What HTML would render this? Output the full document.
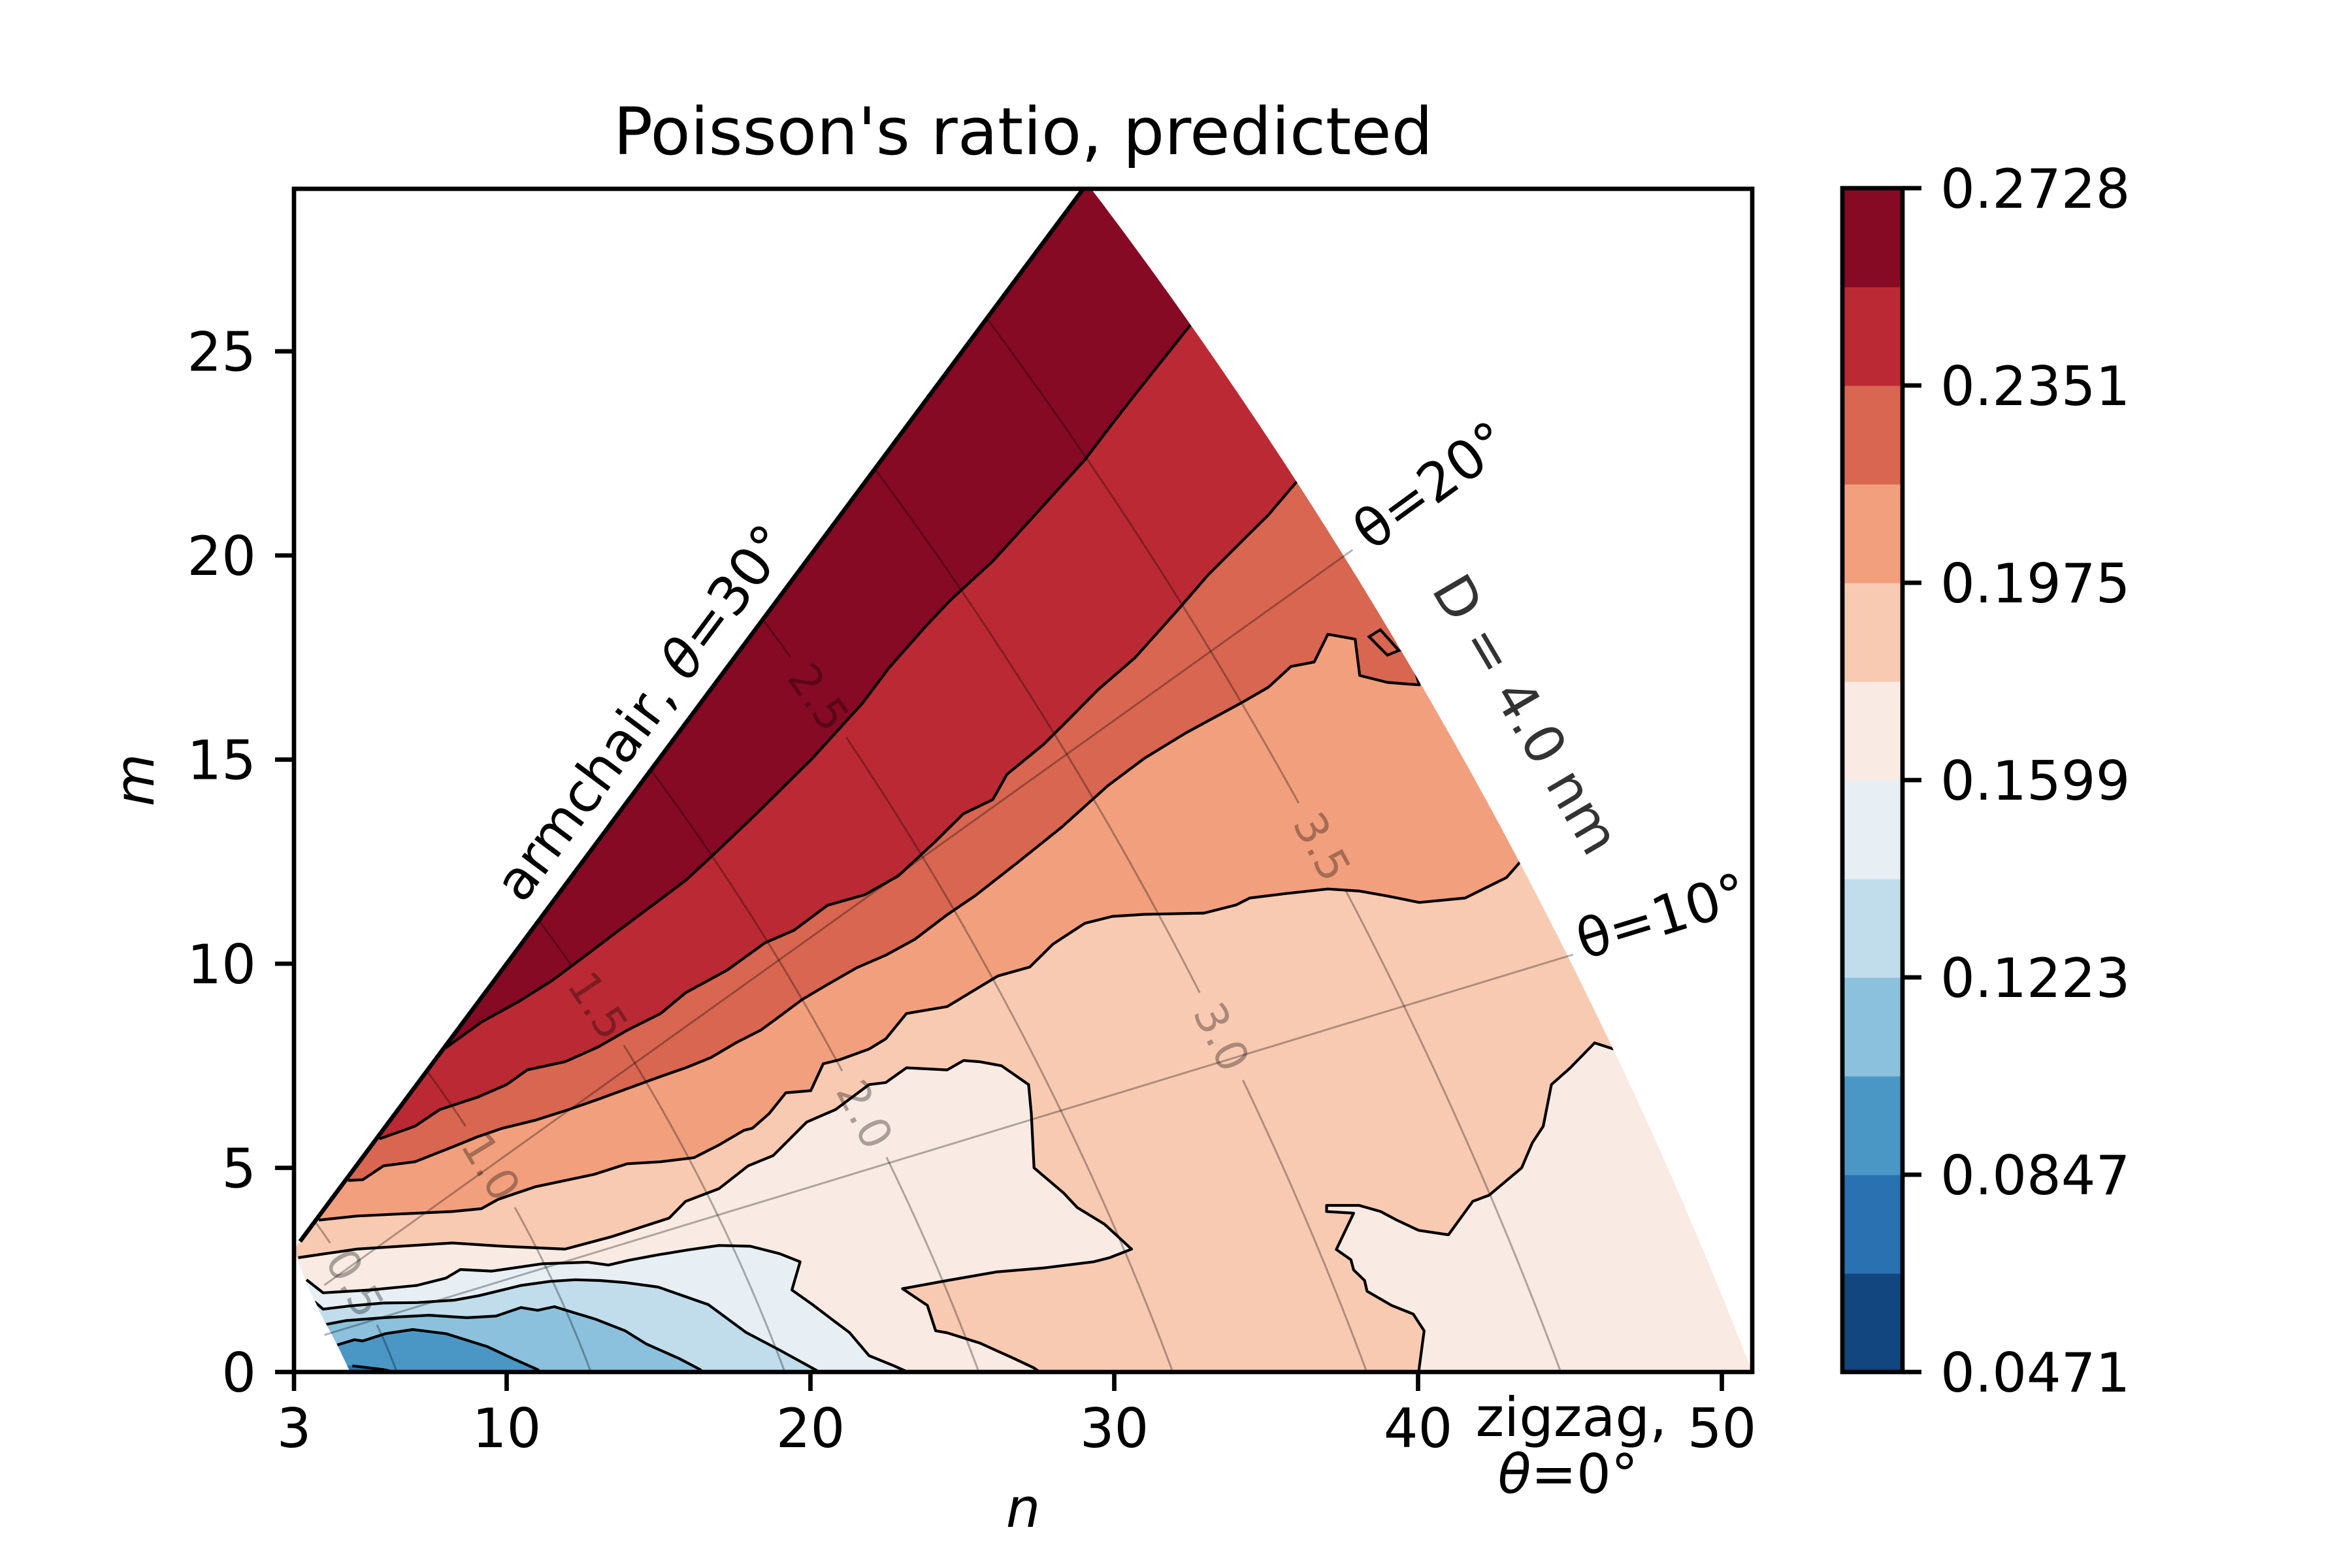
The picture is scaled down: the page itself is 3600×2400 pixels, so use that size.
<!DOCTYPE html>
<html><head><meta charset="utf-8"><title>Poisson's ratio, predicted</title>
<style>
html,body{margin:0;padding:0;background:#fff;}
svg{display:block;font-family:"DejaVu Sans","Liberation Sans",sans-serif;}
</style></head>
<body>
<svg id="chart" width="3600" height="2400" viewBox="0 0 3600 2400" xmlns="http://www.w3.org/2000/svg">
<defs>
<clipPath id="axclip"><rect x="450" y="289" width="2232" height="1811"/></clipPath>
<clipPath id="domclip"><polygon id="dompoly" points=""/></clipPath>
</defs>
<rect x="0" y="0" width="3600" height="2400" fill="#fff"/>
<text x="1566" y="236" font-size="100" text-anchor="middle">Poisson's ratio, predicted</text>
<g clip-path="url(#axclip)">
  <g id="fills" clip-path="url(#domclip)"></g>
  <g id="guides"></g>
  <g id="lines"></g>
</g>
<g id="annot">
  <text transform="translate(800,1385) rotate(-53.3)" font-size="83">armchair, <tspan font-style="italic">θ</tspan>=30°</text>
  <text transform="translate(2099,845) rotate(-36)" font-size="83">θ=20°</text>
  <text transform="translate(2424,1469) rotate(-17)" font-size="83">θ=10°</text>
  <text transform="translate(2190,902) rotate(59.6)" font-size="83" fill="#333">D = 4.0 nm</text>
  <text x="2405" y="2198" font-size="83" text-anchor="middle">zigzag,</text>
  <text x="2400" y="2285" font-size="83" text-anchor="middle"><tspan font-style="italic">θ</tspan>=0°</text>
</g>
<rect x="450" y="289" width="2232" height="1811" fill="none" stroke="#000" stroke-width="6.7"/>
<g id="xticks"></g>
<g id="yticks"></g>
<text x="1566" y="2337" font-size="83" font-style="italic" text-anchor="middle">n</text>
<text transform="translate(235,1194) rotate(-90)" font-size="83" font-style="italic" text-anchor="middle">m</text>
<g id="cbar"></g>
</svg>
<script>
// ---- data ----
const xTicks = [3, 10, 20, 30, 40, 50];
const yTicks = [0, 5, 10, 15, 20, 25];
const cbarTickLabels = ['0.0471', '0.0847', '0.1223', '0.1599', '0.1975', '0.2351', '0.2728'];
const bandColors = ['#11467f', '#2a71b2', '#4a97c5', '#8bc1dc', '#c1ddec', '#e7eff4', '#f9ebe3', '#f9cab2', '#f29f7e', '#d86651', '#bb2a34', '#860a24'];
const dsqMax = 2600;
const lowerLeftEdge = [[4.85,0],[4.4,0.7],[3.9,1.4],[3.4,2.2],[3.1,2.8],[3,3]];
const L1 = [[8.0,7.94],[9.17,8.57],[10.41,9.08],[11.5,9.59],[12.6,10.2],[13.7,10.82],[14.8,11.43],[15.89,12.04],[16.72,12.61],[18.23,13.68],[20.05,15.02],[21.7,16.37],[22.6,17.26],[23.8,18.27],[24.6,18.9],[26.0,19.86],[27.52,21.1],[29.03,22.34],[29.94,23.23],[30.77,24.02],[32.35,25.5],[33.0,26.1]];
const L2 = [[5.81,5.71],[6.98,6.02],[7.8,6.43],[9.04,6.73],[10.0,7.04],[10.68,7.4],[11.92,7.6],[13.01,7.96],[13.97,8.37],[15.07,8.78],[15.89,9.29],[17.27,9.85],[18.5,10.51],[19.46,10.82],[20.56,11.43],[21.79,11.69],[22.89,12.15],[24.12,13.0],[25.03,13.67],[26.0,14.02],[26.47,14.64],[27.67,15.37],[28.43,15.93],[29.48,16.72],[30.69,17.5],[32.05,18.63],[33.1,19.53],[34.31,20.43],[35.07,20.99],[36.1,21.89],[36.6,22.3]];
const L3 = [[4.78,4.69],[5.26,4.71],[5.95,5.05],[6.98,5.15],[8.21,5.51],[9.04,5.76],[9.86,5.97],[10.96,6.17],[12.05,6.43],[13.01,6.68],[13.97,6.94],[15.07,7.24],[15.89,7.45],[16.72,7.7],[17.54,8.06],[18.36,8.37],[18.91,8.67],[19.74,9.13],[20.56,9.49],[21.52,9.9],[22.48,10.21],[23.44,10.6],[24.5,11.2],[25.41,11.66],[26.77,12.45],[28.28,13.35],[29.79,14.36],[30.99,15.03],[32.35,15.65],[34.16,16.38],[35.07,16.77],[35.82,17.28],[36.58,17.39],[37.03,18.07],[37.93,17.95],[38.08,17.06],[38.99,16.89],[40.04,16.83],[39.67,17.79]];
const island = [[38.39,18.01],[38.76,18.18],[39.37,17.67],[38.99,17.56]];
const L4 = [[3.82,3.72],[5.06,3.82],[6.43,3.87],[8.21,3.93],[9.17,4.0],[9.72,4.23],[10.96,4.54],[12.88,4.84],[13.97,5.1],[15.07,5.15],[16.17,5.25],[16.99,5.56],[17.81,5.92],[18.09,5.97],[18.64,6.33],[19.19,6.84],[20.01,6.89],[20.42,7.55],[20.97,7.65],[21.93,7.91],[22.48,8.16],[23.16,8.78],[24.5,8.95],[25.41,9.36],[26.17,9.7],[27.22,9.92],[27.98,10.48],[29.03,10.99],[29.94,11.16],[30.99,11.21],[32.95,11.24],[34.01,11.44],[34.46,11.61],[35.67,11.72],[37.03,11.83],[38.08,11.78],[38.99,11.66],[40.04,11.5],[41.55,11.61],[42.91,12.11],[43.44,12.56],[43.37,12.84]];
const L5 = [[3.14,2.8],[5.06,3.01],[7.12,3.11],[8.21,3.16],[9.86,3.08],[11.92,3.01],[13.43,3.31],[14.52,3.57],[15.35,3.77],[15.89,4.18],[16.99,4.49],[17.95,5.05],[18.77,5.3],[19.87,6.12],[20.83,6.43],[21.93,7.04],[22.48,7.09],[23.16,7.45],[24.5,7.4],[25.04,7.63],[25.57,7.6],[26.29,7.5],[27.18,7.04],[27.27,6.32],[27.36,5.0],[28.34,4.38],[28.78,4.03],[29.68,3.62],[30.57,3.01],[29.85,2.8],[29.32,2.7],[27.71,2.55],[26.11,2.45],[24.5,2.24],[23.03,2.04],[23.85,1.63],[24.12,1.01],[24.5,0.96],[25.57,0.71],[26.64,0.35],[27.36,0.1],[27.54,0]];
const L5b = [[40.02,0],[40.2,1.01],[39.84,1.42],[39.13,1.63],[38.32,1.98],[38.24,2.24],[37.88,2.5],[37.79,2.75],[37.31,3.0],[37.88,3.89],[36.99,3.93],[36.99,4.08],[38.06,4.08],[38.77,3.93],[39.3,3.72],[40.02,3.47],[41.0,3.36],[41.8,4.18],[42.34,4.33],[43.41,5.0],[43.76,5.61],[44.12,6.02],[44.39,7.04],[45.01,7.45],[45.81,8.06],[46.44,7.91]];
const L6 = [[3.41,2.26],[3.96,1.94],[5.53,2.01],[7.04,2.12],[8.0,2.3],[8.48,2.51],[9.51,2.47],[11.16,2.65],[12.67,2.69],[13.35,2.62],[14.04,2.74],[14.99,2.87],[15.96,2.99],[16.99,3.1],[18.02,3.08],[18.98,2.9],[19.66,2.7],[19.39,2.01],[20.07,1.65],[20.76,1.26],[21.28,0.97],[21.93,0.4],[22.75,0.15],[23.2,0]];
const L7 = [[3.68,1.72],[3.96,1.54],[4.85,1.62],[5.95,1.69],[7.04,1.7],[8.28,1.76],[9.1,1.87],[10.47,2.12],[11.43,2.22],[12.25,2.26],[13.08,2.24],[13.9,2.19],[14.99,2.08],[16.1,1.79],[16.64,1.65],[17.88,0.97],[18.98,0.54],[20.2,0.04],[20.25,0]];
const L8 = [[3.96,1.15],[4.71,1.26],[5.95,1.33],[7.45,1.39],[8.69,1.33],[9.65,1.37],[10.47,1.58],[11.02,1.51],[11.57,1.6],[12.94,1.29],[13.9,1.01],[14.59,0.69],[15.68,0.33],[16.37,0.06],[16.45,0]];
const L9 = [[4.37,0.65],[4.99,0.79],[5.26,0.76],[6.01,0.94],[6.91,1.04],[8.0,0.94],[9.37,0.62],[10.2,0.33],[11.02,0.06],[11.1,0]];
const L10 = [[4.92,0.15],[5.95,0.06],[6.3,0]];
const diamValues = [0.5, 1.0, 1.5, 2.0, 2.5, 3.0, 3.5];
const diamLabelSpots = [[4.92,2.14],[9.59,5.09],[12.88,8.89],[22.03,6.38],[20.26,16.52],[33.58,8.22],[36.73,12.83]];
const thetaLinesDeg = [10, 20];

// ---- axes ----
const xMin = 3, xMax = 51, yMin = 0, yMax = 28.98;
const AX = {l:450, r:2682, t:289, b:2100};
function X(n){ return AX.l + (n - xMin) * (AX.r - AX.l) / (xMax - xMin); }
function Y(m){ return AX.b - (m - yMin) * (AX.b - AX.t) / (yMax - yMin); }
const NS = 'http://www.w3.org/2000/svg';
function el(tag, attrs, parent){ const e = document.createElementNS(NS, tag); for (const k in attrs) e.setAttribute(k, attrs[k]); parent.appendChild(e); return e; }
function P(arr){ return arr.map(p => X(p[0]).toFixed(1) + ',' + Y(p[1]).toFixed(1)).join(' '); }
const chordA = 0.246 / Math.PI;

// domain (smooth outer boundary, apex on armchair line)
const apex = (-2 + Math.sqrt(4 + 12 * dsqMax)) / 6;
const domain = [[3,3], [apex, apex]];
for (let k = 1; k <= 120; k++) {
  const m = apex - apex * k / 120;
  const c = dsqMax - 2.0 * m;
  domain.push([(-m + Math.sqrt(4*c - 3*m*m)) / 2, m]);
}
lowerLeftEdge.forEach(p => domain.push(p));
document.getElementById('dompoly').setAttribute('points', P(domain));

const fills = document.getElementById('fills');
const lines = document.getElementById('lines');
function fillPoly(pts, color, name){
  const e = el('polygon', {points: P(pts), fill: color, stroke: color, 'stroke-width': 1}, fills);
  
  
}
function above(line){
  const s = line[0], e = line[line.length-1];
  const out = [[-5, s[1]]].concat(line);
  if (e[1] === 0) out.push([e[0], -5], [80, -5]); else out.push([80, e[1]]);
  out.push([80, 60], [-5, 60]);
  return out;
}
const base = el('rect', {x: 0, y: 0, width: 3600, height: 2400, fill: bandColors[2]}, fills);


fillPoly([[-5, L10[0][1]]].concat(L10, [[L10[L10.length-1][0], -5], [-5, -5]]), bandColors[1], 'band-0.0659-0.0847');
fillPoly(above(L9), bandColors[3], 'band-0.1035-0.1223');
fillPoly(above(L8), bandColors[4], 'band-0.1223-0.1411');
fillPoly(above(L7), bandColors[5], 'band-0.1411-0.1599');
fillPoly(above(L6), bandColors[6], 'band-0.1599-0.1787');
fillPoly(above(L5), bandColors[7], 'band-0.1787-0.1975');
fillPoly(L5b.concat([[80, L5b[L5b.length-1][1]], [80, -5], [L5b[0][0], -5]]), bandColors[6], 'band-0.1599-0.1787-right');
fillPoly(above(L4), bandColors[8], 'band-0.1975-0.2163');
fillPoly(above(L3), bandColors[9], 'band-0.2163-0.2351');
fillPoly(island, bandColors[9], 'band-0.2163-0.2351-island');
fillPoly(above(L2), bandColors[10], 'band-0.2351-0.2540');
fillPoly(above(L1), bandColors[11], 'band-0.2540-0.2728');

// contour lines (clipped to domain)
const lineGroup = el('g', {'clip-path': 'url(#domclip)'}, lines);


[[L1,'contour-0.2540'],[L2,'contour-0.2351'],[L3,'contour-0.2163'],[L4,'contour-0.1975'],[L5,'contour-0.1787'],[L5b,'contour-0.1787-right'],[L6,'contour-0.1599'],[L7,'contour-0.1411'],[L8,'contour-0.1223'],[L9,'contour-0.1035'],[L10,'contour-0.0847']].forEach(([ln, nm]) => {
  const e = el('polyline', {points: P(ln), fill: 'none', stroke: '#000', 'stroke-width': 4.2, 'stroke-linejoin': 'round'}, lineGroup);
  
  
});
const isl = el('polygon', {points: P(island), fill: 'none', stroke: '#000', 'stroke-width': 4.2}, lines);


const arm = el('line', {x1: X(3.2), y1: Y(3.2), x2: X(apex), y2: Y(apex), stroke: '#000', 'stroke-width': 6.5}, lines);



// guides
const guides = document.getElementById('guides');
diamValues.forEach((D, i) => {
  const c = (D / chordA) ** 2;
  const spot = diamLabelSpots[i];
  const s = Math.sqrt(c / (spot[0]*spot[0] + spot[0]*spot[1] + spot[1]*spot[1]));
  const ln = spot[0]*s, lm = spot[1]*s;
  const lx = X(ln), ly = Y(lm);
  const gap = 72;
  const mA = Math.sqrt(c / 3);
  let segs = [], cur = [];
  for (let k = 0; k <= 300; k++) {
    const m = mA * k / 300;
    const n = (-m + Math.sqrt(4*c - 3*m*m)) / 2;
    const px = X(n), py = Y(m);
    if (Math.hypot(px - lx, py - ly) < gap) { if (cur.length > 1) segs.push(cur); cur = []; }
    else cur.push(px.toFixed(1) + ',' + py.toFixed(1));
  }
  if (cur.length > 1) segs.push(cur);
  segs.forEach(sg => {
    const e = el('polyline', {points: sg.join(' '), fill: 'none', stroke: 'rgba(0,0,0,0.3)', 'stroke-width': 3}, guides);
    
    
  });
  let tx = -(ln + 2*lm) * (AX.r-AX.l)/(xMax-xMin), ty = -(2*ln + lm) * (AX.b-AX.t)/(yMax-yMin);
  if (tx < 0) { tx = -tx; ty = -ty; }
  const ang = Math.atan2(ty, tx) * 180 / Math.PI;
  const t = el('text', {transform: 'translate(' + lx.toFixed(1) + ',' + ly.toFixed(1) + ') rotate(' + ang.toFixed(1) + ')', 'font-size': 67, 'text-anchor': 'middle', dy: 24, fill: 'rgba(0,0,0,0.32)'}, guides);
  t.textContent = D.toFixed(1);
  
  
});
thetaLinesDeg.forEach(th => {
  const r = Math.tan(th * Math.PI / 180);
  const k = 2*r / (Math.sqrt(3) - r);
  const nEnd = Math.sqrt(2600 / (1 + k + k*k));
  const e = el('line', {x1: X(4), y1: Y(4*k), x2: X(nEnd), y2: Y(nEnd*k), stroke: 'rgba(0,0,0,0.3)', 'stroke-width': 3}, guides);
  
  
});

// ticks
const xt = document.getElementById('xticks');
xTicks.forEach(v => {
  const l = el('line', {x1: X(v), y1: AX.b, x2: X(v), y2: AX.b + 29, stroke: '#000', 'stroke-width': 6.7}, xt);
  
  
  const t = el('text', {x: X(v), y: 2215, 'font-size': 83, 'text-anchor': 'middle'}, xt);
  t.textContent = v;
  
  
});
const yt = document.getElementById('yticks');
yTicks.forEach(v => {
  const l = el('line', {x1: AX.l - 29, y1: Y(v), x2: AX.l, y2: Y(v), stroke: '#000', 'stroke-width': 6.7}, yt);
  
  
  const t = el('text', {x: 392, y: Y(v) + 30, 'font-size': 83, 'text-anchor': 'end'}, yt);
  t.textContent = v;
  
  
});

// colorbar
const cb = document.getElementById('cbar');
const CB = {l: 2820, r: 2912, t: 288, b: 2100};
const nb = bandColors.length, bh = (CB.b - CB.t) / nb;
bandColors.forEach((c, i) => {
  const r = el('rect', {x: CB.l, y: (CB.b - (i+1)*bh).toFixed(1), width: CB.r - CB.l, height: (bh + 0.6).toFixed(1), fill: c}, cb);
  
  
});
const cbo = el('rect', {x: CB.l, y: CB.t, width: CB.r - CB.l, height: CB.b - CB.t, fill: 'none', stroke: '#000', 'stroke-width': 6.7}, cb);


cbarTickLabels.forEach((lab, i) => {
  const y = CB.b - i * (CB.b - CB.t) / (cbarTickLabels.length - 1);
  const l = el('line', {x1: CB.r, y1: y, x2: CB.r + 29, y2: y, stroke: '#000', 'stroke-width': 6.7}, cb);
  
  
  const t = el('text', {x: 2970, y: y + 30, 'font-size': 83}, cb);
  t.textContent = lab;
  
  
});
</script>
</body></html>
